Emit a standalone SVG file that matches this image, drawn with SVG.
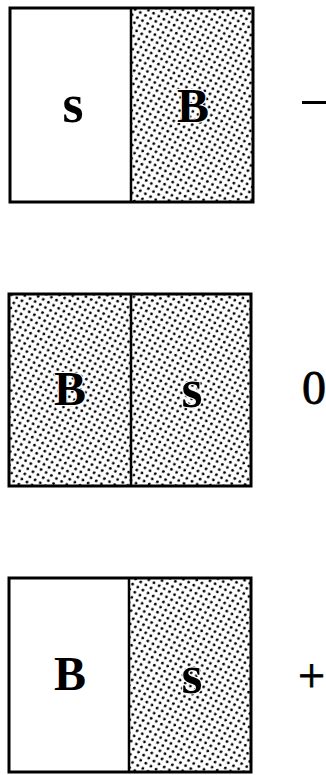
<svg xmlns="http://www.w3.org/2000/svg" width="326" height="775" viewBox="0 0 326 775">
<style>
.box{fill:none;stroke:#000;stroke-width:3}
.div{stroke:#000;stroke-width:2.5}
.lbl{font-family:"Liberation Serif","Times New Roman",serif;font-weight:bold;font-size:48px;text-anchor:middle;fill:#000}
.s{font-size:54px}
.in{stroke:#fff;stroke-width:2;paint-order:stroke}
.side{font-family:"Liberation Serif","Times New Roman",serif;font-size:48px;fill:#000;stroke:#000;stroke-width:0.8}
</style>
<defs>
<pattern id="dots" width="8.4" height="8.4" patternUnits="userSpaceOnUse" patternTransform="rotate(-15)">
<rect width="8.4" height="8.4" fill="#fff"/>
<circle cx="2.1" cy="2.1" r="1.4" fill="#000"/>
<circle cx="6.3" cy="6.3" r="1.4" fill="#000"/>
</pattern>
</defs>
<g id="panel-top">
<rect x="131" y="8" width="122" height="194" fill="url(#dots)"/>
<rect class="box" x="10" y="8" width="243" height="194"/>
<line class="div" x1="131" y1="8" x2="131" y2="202"/>
<text class="lbl s" x="73" y="122">s</text>
<text class="lbl in" x="193" y="122">B</text>
<rect x="302" y="101" width="24" height="3" fill="#000"/>
</g>
<g id="panel-middle">
<rect x="9" y="294" width="242" height="192" fill="url(#dots)"/>
<rect class="box" x="9" y="294" width="242" height="192"/>
<line class="div" x1="131" y1="294" x2="131" y2="486"/>
<text class="lbl in" x="70" y="405">B</text>
<text class="lbl s in" x="192" y="407">s</text>
<text class="side" x="302" y="404">0</text>
</g>
<g id="panel-bottom">
<rect x="129" y="578" width="122" height="194" fill="url(#dots)"/>
<rect class="box" x="9" y="578" width="242" height="194"/>
<line class="div" x1="129" y1="578" x2="129" y2="772"/>
<text class="lbl" x="70" y="690">B</text>
<text class="lbl s in" x="192" y="693">s</text>
<text class="side" x="298" y="692">+</text>
</g>
</svg>
